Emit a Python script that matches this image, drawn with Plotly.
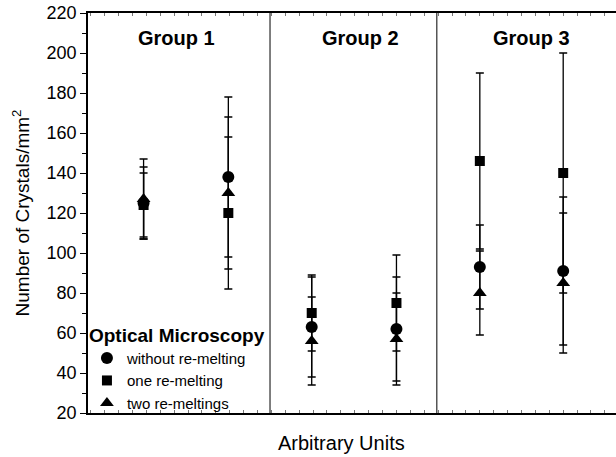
import plotly.graph_objects as go

# Sample positions along the (arbitrary-unit) x axis, two per group
x_pos = [4.0, 10.1, 16.1, 22.2, 28.2, 34.2]
group_dividers = [13.1, 25.1]
group_labels = ["Group 1", "Group 2", "Group 3"]
group_label_x = [6.4, 19.6, 31.9]

# Mean crystal density (crystals/mm^2) and standard deviation per sample
without_remelt = [125, 138, 63, 62, 93, 91]
without_remelt_err = [18, 40, 25, 26, 21, 37]

one_remelt = [124, 120, 70, 75, 146, 140]
one_remelt_err = [16, 38, 19, 24, 44, 60]

two_remelt = [127, 130, 56, 57, 80, 85]
two_remelt_err = [20, 38, 22, 23, 21, 35]

series = [
    ("without re-melting", without_remelt, without_remelt_err, "circle", 12),
    ("one re-melting", one_remelt, one_remelt_err, "square", 10),
    ("two re-meltings", two_remelt, two_remelt_err, "triangle-up", 12),
]

fig = go.Figure()
for name, vals, errs, symbol, size in series:
    fig.add_trace(go.Scatter(
        x=x_pos, y=vals, name=name, mode="markers",
        marker=dict(symbol=symbol, size=size, color="black"),
        error_y=dict(type="data", array=errs, visible=True,
                     color="black", thickness=1.3, width=4),
    ))

# vertical separators between the three groups
for xd in group_dividers:
    fig.add_shape(type="line", xref="x", yref="y", x0=xd, x1=xd, y0=20, y1=220,
                  line=dict(color="#555555", width=1.5))

# the open right-hand side of the frame is kept clear
fig.add_shape(type="rect", xref="paper", yref="paper", x0=0.985, x1=1.0,
              y0=0.008, y1=0.992, fillcolor="white", line=dict(width=0),
              layer="above")

for label, gx in zip(group_labels, group_label_x):
    fig.add_annotation(x=gx, y=207.5, xref="x", yref="y", text=f"<b>{label}</b>",
                       showarrow=False, font=dict(size=20, color="black"))

fig.add_annotation(x=(341 - 88) / 528, y=-0.075, xref="paper", yref="paper",
                   text="Arbitrary Units", showarrow=False, yanchor="middle",
                   font=dict(size=20, color="black"))

font_family = "Liberation Sans, Arial, Helvetica, sans-serif"

fig.update_layout(
    template="none",
    width=616, height=457,
    margin=dict(l=88, r=0, t=13, b=44, autoexpand=False),
    paper_bgcolor="white", plot_bgcolor="white",
    font=dict(family=font_family, color="black"),
    showlegend=True,
    legend=dict(
        title=dict(text="<b>Optical Microscopy</b>", font=dict(size=19)),
        font=dict(size=15), x=-0.002, y=0.24, xanchor="left", yanchor="top",
        bgcolor="rgba(0,0,0,0)", tracegroupgap=0, itemwidth=30,
    ),
    xaxis=dict(
        range=[0, 38], showgrid=False, zeroline=False, automargin=False,
        showline=True, linecolor="black", linewidth=2, mirror="ticks",
        ticks="inside", ticklen=3, tickcolor="#777777", tickwidth=1,
        tick0=0.2, dtick=1, showticklabels=False,
    ),
    yaxis=dict(
        range=[20, 220], showgrid=False, zeroline=False, automargin=False,
        showline=True, linecolor="black", linewidth=1.5,
        ticks="outside", ticklen=6, tickwidth=1.2, tickcolor="black",
        dtick=20, tick0=20, tickfont=dict(size=18),
        minor=dict(ticks="outside", ticklen=4, dtick=10, tickcolor="black", tickwidth=1),
        title=dict(text="Number of Crystals/mm<sup>2</sup>", font=dict(size=19), standoff=12),
    ),
)

fig.write_html("out.html")
